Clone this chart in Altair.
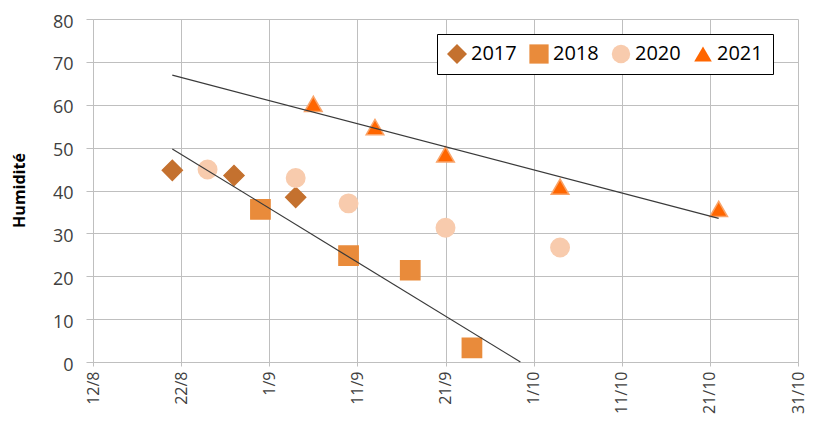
import altair as alt
import pandas as pd

# ---- data ----
series_names = ["2017", "2018", "2020", "2021"]

dates_2017 = ["2021-08-21T00:00", "2021-08-28T00:00", "2021-09-04T00:00"]
vals_2017 = [44.7, 43.5, 38.4]

dates_2018 = ["2021-08-31T00:00", "2021-09-10T00:00", "2021-09-17T00:00", "2021-09-24T00:00"]
vals_2018 = [35.6, 24.8, 21.4, 3.3]

dates_2020 = ["2021-08-25T00:00", "2021-09-04T00:00", "2021-09-10T00:00", "2021-09-21T00:00", "2021-10-04T00:00"]
vals_2020 = [44.9, 42.9, 37.0, 31.3, 26.7]

dates_2021 = ["2021-09-06T00:00", "2021-09-13T00:00", "2021-09-21T00:00", "2021-10-04T00:00", "2021-10-22T00:00"]
vals_2021 = [60.2, 54.8, 48.4, 40.9, 35.7]

trend_names = ["upper", "upper", "lower", "lower"]
trend_dates = ["2021-08-21T00:00", "2021-10-22T00:00", "2021-08-21T00:00", "2021-09-29T12:00"]
trend_vals = [66.9, 33.5, 49.7, 0.0]

tick_days = [(8, 12), (8, 22), (9, 1), (9, 11), (9, 21), (10, 1), (10, 11), (10, 21), (10, 31)]

colors = ["#C4712F", "#E98B3B", "#F8CBAD", "#FF6600"]
strokes = ["#C4712F", "#E98B3B", "#F8CBAD", "#F9A46A"]
shapes = ["diamond", "square", "circle", "triangle-up"]
sizes = [400, 310, 335, 420]

rows = []
for name, ds, vs in zip(series_names, [dates_2017, dates_2018, dates_2020, dates_2021],
                        [vals_2017, vals_2018, vals_2020, vals_2021]):
    for d, v in zip(ds, vs):
        rows.append({"date": d, "value": v, "year": name})
points_df = pd.DataFrame(rows)

trend_df = pd.DataFrame({"trend": trend_names, "date": trend_dates, "value": trend_vals})

FONT = "Open Sans"
GRID = "#BFBFBF"

x_scale = alt.Scale(domain=[alt.DateTime(year=2021, month=8, date=12),
                            alt.DateTime(year=2021, month=10, date=31)], nice=False)
x_axis = alt.Axis(
    title=None,
    values=[alt.DateTime(year=2021, month=m, date=d) for m, d in tick_days],
    labelExpr="timeFormat(datum.value, '%-d/%-m')",
    labelAngle=270, labelAlign="right", labelBaseline="middle",
    labelFont=FONT, labelFontSize=16, labelColor="#404040", labelPadding=5,
    tickSize=4, tickColor=GRID, domainColor=GRID, gridColor=GRID, grid=True,
    labelOverlap=False, labelFlush=False,
)
y_scale = alt.Scale(domain=[0, 80], nice=False)
y_axis = alt.Axis(
    title="Humidité", values=list(range(0, 81, 10)),
    labelFont=FONT, labelFontSize=18, labelColor="#404040", labelPadding=13,
    labelBaseline="alphabetic", labelOffset=8,
    tickSize=7, tickColor=GRID, domainColor=GRID, gridColor=GRID, grid=True,
    titleFont=FONT, titleFontSize=16, titleFontWeight="bold", titleColor="#000000",
    titleX=-66, titleY=171, titleAngle=270, titleAlign="center", titleBaseline="bottom",
)

legend = alt.Legend(title=None, orient="none", legendX=344, legendY=15,
                    direction="horizontal", columns=4,
                    labelFont=FONT, labelFontSize=20, labelColor="#000000",
                    symbolSize=190, labelOffset=4, columnPadding=12,
                    padding=10, strokeColor="#000000", fillColor="#FFFFFF",
                    symbolStrokeWidth=0)

points = alt.Chart(points_df).mark_point(filled=True, opacity=1, strokeWidth=1.5).encode(
    x=alt.X("date:T", scale=x_scale, axis=x_axis),
    y=alt.Y("value:Q", scale=y_scale, axis=y_axis),
    color=alt.Color("year:N", scale=alt.Scale(domain=series_names, range=colors), legend=legend),
    shape=alt.Shape("year:N", scale=alt.Scale(domain=series_names, range=shapes), legend=legend),
    stroke=alt.Stroke("year:N", scale=alt.Scale(domain=series_names, range=strokes), legend=None),
    size=alt.Size("year:N", scale=alt.Scale(domain=series_names, range=sizes), legend=None),
)

lines = alt.Chart(trend_df).mark_line(color="#3A3A3A", strokeWidth=1.2).encode(
    x=alt.X("date:T", scale=x_scale),
    y=alt.Y("value:Q", scale=y_scale),
    detail="trend:N",
)

chart = alt.layer(points, lines).properties(
    width=705, height=343,
    autosize=alt.AutoSizeParams(type="none"),
    padding={"left": 85, "top": 11, "right": 9, "bottom": 55},
).configure_view(strokeWidth=0)

chart.save("out.html", embed_options={"renderer": "svg", "actions": False})
